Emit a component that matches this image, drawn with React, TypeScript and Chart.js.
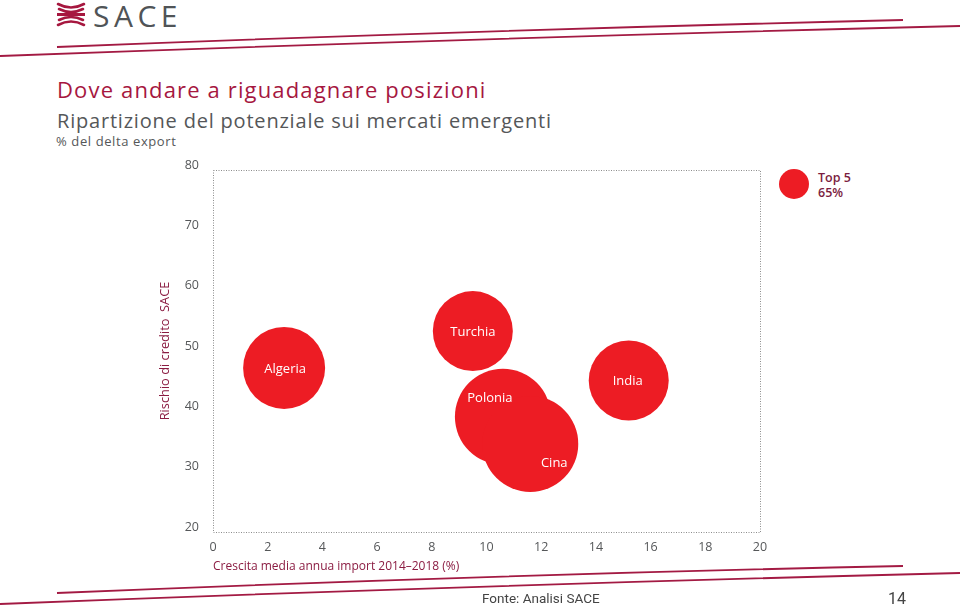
import React, { useEffect, useRef } from "react";
import { Chart, registerables } from "chart.js";

Chart.register(...registerables);

// ---- data ----
const countries = ["Algeria", "Turchia", "Polonia", "Cina", "India"];
const importGrowth = [2.6, 9.5, 10.6, 11.6, 15.2]; // x: Crescita media annua import 2014-2018 (%)
const creditRisk = [47.2, 53.3, 39.1, 34.6, 45.1]; // y: Rischio di credito SACE
const bubbleSize = [41, 40, 48, 48, 40]; // bubble radius
const xTickValues = [0, 2, 4, 6, 8, 10, 12, 14, 16, 18, 20];
const yTickValues = [20, 30, 40, 50, 60, 70, 80];

// ---- style ----
const FONT = "'Open Sans', 'DejaVu Sans', sans-serif";
const RED = "#ED1C24";
const CRIMSON = "#a6173f";
const MAROON = "#8b1c42";
const GRAY = "#555759";
const labelShift: [number, number][] = [
  [1, 1],
  [0, 1],
  [-13, -18],
  [24, 19],
  [-1, 1],
];

const framePlugin = {
  id: "dottedFrame",
  beforeDatasetsDraw(chart: any) {
    const { left, top, right, bottom } = chart.chartArea;
    const ctx = chart.ctx;
    ctx.save();
    ctx.strokeStyle = "#8c8c8c";
    ctx.lineWidth = 1;
    ctx.setLineDash([1, 1.5]);
    ctx.strokeRect(Math.round(left) + 0.5, Math.round(top) + 0.5, Math.round(right - left), Math.round(bottom - top));
    ctx.restore();
  },
};

const bubbleLabelPlugin = {
  id: "bubbleLabels",
  afterDatasetsDraw(chart: any) {
    const ctx = chart.ctx;
    const meta = chart.getDatasetMeta(0);
    ctx.save();
    ctx.fillStyle = "#ffffff";
    ctx.font = `13px ${FONT}`;
    ctx.textAlign = "center";
    ctx.textBaseline = "middle";
    meta.data.forEach((el: any, i: number) => {
      const [dx, dy] = labelShift[i] || [0, 0];
      ctx.fillText(countries[i], el.x + dx, el.y + dy);
    });
    ctx.restore();
  },
};

export default function App() {
  const canvasRef = useRef<HTMLCanvasElement | null>(null);

  useEffect(() => {
    if (!canvasRef.current) return;
    const chart = new Chart(canvasRef.current, {
      type: "bubble",
      data: {
        datasets: [
          {
            label: "Top 5",
            data: countries.map((_, i) => ({ x: importGrowth[i], y: creditRisk[i], r: bubbleSize[i] })),
            backgroundColor: RED,
            borderWidth: 0,
            hoverRadius: 0,
          } as any,
        ],
      },
      options: {
        animation: false,
        responsive: false,
        maintainAspectRatio: false,
        events: [],
        layout: { padding: { left: 158, right: 200, top: 170, bottom: 0 } },
        plugins: {
          legend: { display: false },
          tooltip: { enabled: false },
        },
        scales: {
          x: {
            type: "linear",
            min: xTickValues[0],
            max: xTickValues[xTickValues.length - 1],
            afterBuildTicks: (s: any) => {
              s.ticks = xTickValues.map((v) => ({ value: v }));
            },
            afterFit: (s: any) => {
              s.height = 75;
            },
            ticks: { color: GRAY, font: { family: FONT, size: 12.5 }, padding: 8, autoSkip: false, maxRotation: 0 },
            grid: { display: false, drawTicks: false },
            border: { display: false },
            title: {
              display: true,
              text: "Crescita media annua import 2014–2018 (%)",
              align: "start",
              color: MAROON,
              font: { family: FONT, size: 12 },
              padding: { top: 0, bottom: 33 },
            },
          },
          y: {
            type: "linear",
            min: yTickValues[0],
            max: yTickValues[yTickValues.length - 1],
            afterBuildTicks: (s: any) => {
              s.ticks = yTickValues.map((v) => ({ value: v }));
            },
            afterFit: (s: any) => {
              s.width = 55;
            },
            ticks: { color: GRAY, font: { family: FONT, size: 12.5 }, padding: 14, labelOffset: -5, autoSkip: false },
            grid: { display: false, drawTicks: false },
            border: { display: false },
            title: {
              display: true,
              text: "Rischio di credito  SACE",
              color: MAROON,
              font: { family: FONT, size: 12.8 },
              padding: 0,
            },
          },
        },
      } as any,
      plugins: [framePlugin, bubbleLabelPlugin],
    });
    return () => chart.destroy();
  }, []);

  const abs = (o: React.CSSProperties): React.CSSProperties => ({ position: "absolute", whiteSpace: "nowrap", lineHeight: 1, fontFamily: FONT, ...o });

  return (
    <div style={{ position: "fixed", left: 0, top: 0, width: 960, height: 607, background: "#fff", overflow: "hidden" }}>
      <svg width={960} height={607} style={{ position: "absolute", left: 0, top: 0 }}>
        <g fill="none" stroke={CRIMSON} strokeWidth={2.6} strokeLinecap="round">
          <path d="M58,4 Q71,11 84,4" />
          <path d="M59,9 Q71,15 83,9" />
          <path d="M59,20 Q71,14 83,20" />
          <path d="M58,25 Q71,18 84,25" />
        </g>
        <rect x={57} y={13} width={28} height={3} fill={CRIMSON} />
        <g fill="none" stroke="#a31a43" strokeWidth={1.8}>
          <path d="M57,47 Q480,30 903,20" />
          <path d="M0,56 Q480,38 960,26" />
          <path d="M57,593 Q480,575 903,566" />
          <path d="M0,604 Q480,585 960,573" />
        </g>
      </svg>
      <div style={abs({ left: 93, top: 1, fontSize: 30, color: "#505457", letterSpacing: 4.5, fontWeight: 400 })}>SACE</div>
      <div style={abs({ left: 57, top: 77.5, fontSize: 22, color: CRIMSON, letterSpacing: 1.15 })}>Dove andare a riguadagnare posizioni</div>
      <div style={abs({ left: 57, top: 111, fontSize: 20, color: GRAY, letterSpacing: 0.8 })}>Ripartizione del potenziale sui mercati emergenti</div>
      <div style={abs({ left: 56, top: 135, fontSize: 13, color: GRAY, letterSpacing: 0.6 })}>% del delta export</div>
      <div style={{ position: "absolute", left: 779, top: 169, width: 30, height: 30, borderRadius: "50%", background: RED }} />
      <div style={abs({ left: 818, top: 170, fontSize: 12.5, fontWeight: 600, color: "#7b1d40", lineHeight: "15px" })}>
        Top 5
        <br />
        65%
      </div>
      <canvas ref={canvasRef} width={960} height={607} style={{ position: "absolute", left: 0, top: 0, width: 960, height: 607 }} />
      <div style={abs({ left: 482, top: 592, fontSize: 13.5, color: "#444", fontFamily: "Roboto, sans-serif" })}>Fonte: Analisi SACE</div>
      <div style={abs({ left: 888, top: 591, fontSize: 16, color: "#444", fontFamily: "Roboto, sans-serif" })}>14</div>
    </div>
  );
}
